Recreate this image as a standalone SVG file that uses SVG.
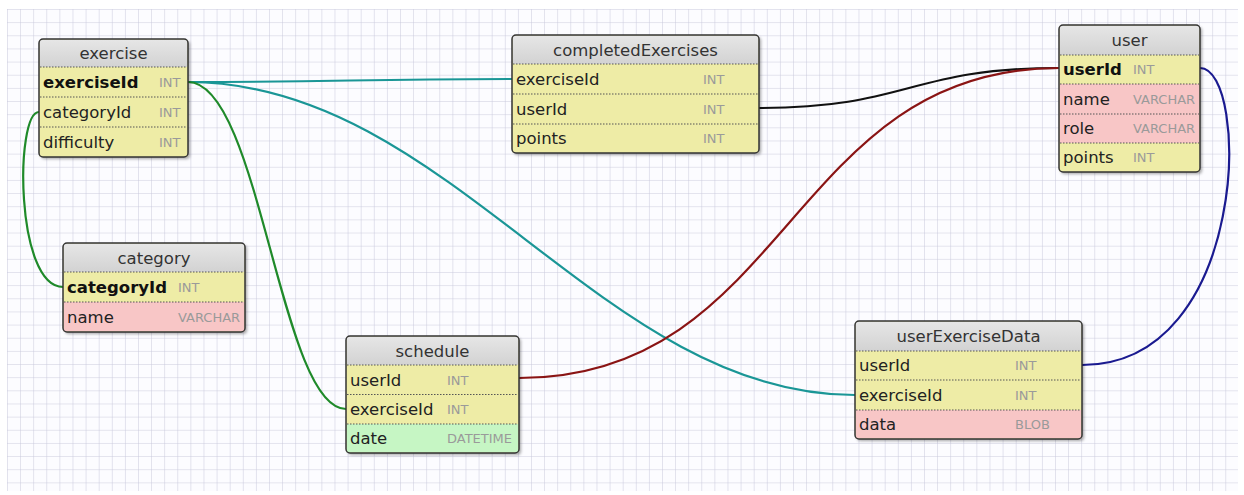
<svg xmlns="http://www.w3.org/2000/svg" width="1244" height="495" viewBox="0 0 1244 495">
<defs>
<pattern id="grid" x="7" y="9" width="13.1" height="13.15" patternUnits="userSpaceOnUse">
<path d="M0,0 V13.15 M0,0 H13.1" fill="none" stroke="#c9c9dc" stroke-width="1"/>
</pattern>
<linearGradient id="hdr" x1="0" y1="0" x2="0" y2="1">
<stop offset="0" stop-color="#e6e6e6"/>
<stop offset="1" stop-color="#d2d2d2"/>
</linearGradient>
<filter id="sh" x="-10%" y="-10%" width="130%" height="130%">
<feDropShadow dx="2" dy="2" stdDeviation="1.5" flood-color="#000" flood-opacity="0.35"/>
</filter>
</defs>
<style>
.hd{fill:url(#hdr)}
.y{fill:#eeeca6}
.p{fill:#f8c6c6}
.g{fill:#c6f6c4}
.bd{fill:none;stroke:#333;stroke-width:1.5}
.dot{stroke:#555;stroke-width:1;stroke-dasharray:1.5,1.5}
.t{font-family:"DejaVu Sans",sans-serif;font-size:16.5px;fill:#222}
.ti{font-family:"DejaVu Sans",sans-serif;font-size:16.5px;fill:#333;text-anchor:middle}
.b{font-weight:bold;fill:#111}
.ty{font-family:"DejaVu Sans",sans-serif;font-size:13px;fill:#9a9a9a}
.c{fill:none;stroke-width:2.2}
</style>
<rect x="0" y="0" width="1244" height="495" fill="#ffffff"/>
<rect x="7" y="9" width="1231" height="482" fill="#fcfcff"/>
<rect x="7" y="9" width="1231" height="482" fill="url(#grid)"/>

<g id="connectors">
<path class="c" stroke="#1a9696" d="M188,82 C350,82 350,79 512,79"/>
<path class="c" stroke="#1a9696" d="M188,82 C450,82 600,395 855,395"/>
<path class="c" stroke="#1f8a2a" d="M188,82 C260,82 280,409 346,409"/>
<path class="c" stroke="#1f8a2a" d="M39,112 C15,112 15,287 63,287"/>
<path class="c" stroke="#111111" d="M759,108 C909,108 909,68 1059,68"/>
<path class="c" stroke="#8a1414" d="M519,378 C789,378 789,68 1059,68"/>
<path class="c" stroke="#1a1a90" d="M1200,68 C1250,68 1250,365 1082,365"/>
</g>

<g id="exercise">
<rect x="39" y="39" width="149" height="118" rx="4" fill="#eeeca6" filter="url(#sh)"/>
<rect class="hd" x="39.5" y="39.5" width="148" height="28" rx="3"/>
<rect class="y" x="39.5" y="67" width="148" height="89.5"/>
<line class="dot" x1="40" y1="67" x2="187" y2="67"/>
<line class="dot" x1="40" y1="97" x2="187" y2="97"/>
<line class="dot" x1="40" y1="127" x2="187" y2="127"/>
<rect class="bd" x="39" y="39" width="149" height="118" rx="4"/>
<text class="ti" x="113.5" y="59">exercise</text>
<text class="t b" x="43" y="88">exerciseId</text><text class="ty" x="159" y="87">INT</text>
<text class="t" x="43" y="118">categoryId</text><text class="ty" x="159" y="117">INT</text>
<text class="t" x="43" y="148">difficulty</text><text class="ty" x="159" y="147">INT</text>
</g>

<g id="category">
<rect x="63" y="243" width="182" height="89" rx="4" fill="#eeeca6" filter="url(#sh)"/>
<rect class="hd" x="63.5" y="243.5" width="181" height="29" rx="3"/>
<rect class="y" x="63.5" y="272" width="181" height="30"/>
<rect class="p" x="63.5" y="302" width="181" height="29.5"/>
<line class="dot" x1="64" y1="272" x2="244" y2="272"/>
<line class="dot" x1="64" y1="302" x2="244" y2="302"/>
<rect class="bd" x="63" y="243" width="182" height="89" rx="4"/>
<text class="ti" x="154" y="264">category</text>
<text class="t b" x="67" y="293">categoryId</text><text class="ty" x="178" y="292">INT</text>
<text class="t" x="67" y="323">name</text><text class="ty" x="178" y="322">VARCHAR</text>
</g>

<g id="schedule">
<rect x="346" y="336" width="173" height="117" rx="4" fill="#eeeca6" filter="url(#sh)"/>
<rect class="hd" x="346.5" y="336.5" width="172" height="29" rx="3"/>
<rect class="y" x="346.5" y="365" width="172" height="59"/>
<rect class="g" x="346.5" y="424" width="172" height="28.5"/>
<line class="dot" x1="347" y1="365" x2="518" y2="365"/>
<line class="dot" x1="347" y1="394.5" x2="518" y2="394.5"/>
<line class="dot" x1="347" y1="424" x2="518" y2="424"/>
<rect class="bd" x="346" y="336" width="173" height="117" rx="4"/>
<text class="ti" x="432.5" y="357">schedule</text>
<text class="t" x="350" y="386">userId</text><text class="ty" x="447" y="385">INT</text>
<text class="t" x="350" y="415">exerciseId</text><text class="ty" x="447" y="414">INT</text>
<text class="t" x="350" y="444">date</text><text class="ty" x="447" y="443">DATETIME</text>
</g>

<g id="completedExercises">
<rect x="512" y="35" width="247" height="118" rx="4" fill="#eeeca6" filter="url(#sh)"/>
<rect class="hd" x="512.5" y="35.5" width="246" height="29" rx="3"/>
<rect class="y" x="512.5" y="64" width="246" height="88.5"/>
<line class="dot" x1="513" y1="64" x2="758" y2="64"/>
<line class="dot" x1="513" y1="94" x2="758" y2="94"/>
<line class="dot" x1="513" y1="124" x2="758" y2="124"/>
<rect class="bd" x="512" y="35" width="247" height="118" rx="4"/>
<text class="ti" x="635.5" y="56">completedExercises</text>
<text class="t" x="516" y="85">exerciseId</text><text class="ty" x="703" y="84">INT</text>
<text class="t" x="516" y="115">userId</text><text class="ty" x="703" y="114">INT</text>
<text class="t" x="516" y="144">points</text><text class="ty" x="703" y="143">INT</text>
</g>

<g id="user">
<rect x="1059" y="25" width="141" height="147" rx="4" fill="#eeeca6" filter="url(#sh)"/>
<rect class="hd" x="1059.5" y="25.5" width="140" height="30" rx="3"/>
<rect class="y" x="1059.5" y="55" width="140" height="29"/>
<rect class="p" x="1059.5" y="84" width="140" height="59"/>
<rect class="y" x="1059.5" y="143" width="140" height="28.5"/>
<line class="dot" x1="1060" y1="55" x2="1199" y2="55"/>
<line class="dot" x1="1060" y1="84" x2="1199" y2="84"/>
<line class="dot" x1="1060" y1="114" x2="1199" y2="114"/>
<line class="dot" x1="1060" y1="143" x2="1199" y2="143"/>
<rect class="bd" x="1059" y="25" width="141" height="147" rx="4"/>
<text class="ti" x="1129.5" y="46">user</text>
<text class="t b" x="1063" y="75">userId</text><text class="ty" x="1133" y="74">INT</text>
<text class="t" x="1063" y="105">name</text><text class="ty" x="1133" y="104">VARCHAR</text>
<text class="t" x="1063" y="134">role</text><text class="ty" x="1133" y="133">VARCHAR</text>
<text class="t" x="1063" y="163">points</text><text class="ty" x="1133" y="162">INT</text>
</g>

<g id="userExerciseData">
<rect x="855" y="321" width="227" height="118" rx="4" fill="#eeeca6" filter="url(#sh)"/>
<rect class="hd" x="855.5" y="321.5" width="226" height="30" rx="3"/>
<rect class="y" x="855.5" y="351" width="226" height="59"/>
<rect class="p" x="855.5" y="410" width="226" height="28.5"/>
<line class="dot" x1="856" y1="351" x2="1081" y2="351"/>
<line class="dot" x1="856" y1="380" x2="1081" y2="380"/>
<line class="dot" x1="856" y1="410" x2="1081" y2="410"/>
<rect class="bd" x="855" y="321" width="227" height="118" rx="4"/>
<text class="ti" x="968.5" y="342">userExerciseData</text>
<text class="t" x="859" y="371">userId</text><text class="ty" x="1015" y="370">INT</text>
<text class="t" x="859" y="401">exerciseId</text><text class="ty" x="1015" y="400">INT</text>
<text class="t" x="859" y="430">data</text><text class="ty" x="1015" y="429">BLOB</text>
</g>
</svg>
